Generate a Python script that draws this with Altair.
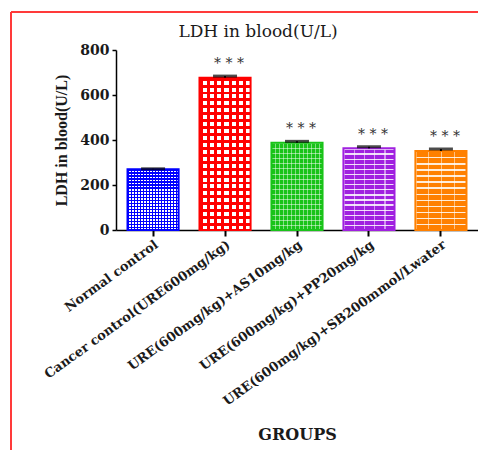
import altair as alt
import pandas as pd

# Group names, mean LDH (U/L), SEM and significance marks
groups = [
    "Normal control",
    "Cancer control(URE600mg/kg)",
    "URE(600mg/kg)+AS10mg/kg",
    "URE(600mg/kg)+PP20mg/kg",
    "URE(600mg/kg)+SB200mmol/Lwater",
]
ldh_mean = [270, 677, 388, 363, 351]
ldh_sem = [2, 7, 6, 7, 9]
signif = ["", "* * *", "* * *", "* * *", "* * *"]

colors = ["#0000ff", "#ff0000", "#19c319", "#a020e0", "#ff8000"]

W_LINE = "rgba(255,255,255,0.85)"
W_SOFT = "rgba(255,255,255,0.5)"

# fill pattern per group:
# (base fill, (row colour, row period px, row share), (column colour, column period px, column share))
patterns = [
    ("white", ("#0000ff", 3.0, 0.5), ("#0000ff", 3.0, 0.5)),
    ("white", ("#ff0000", 7.0, 0.42), ("#ff0000", 7.0, 0.42)),
    ("#19c319", ("rgba(255,255,255,0.5)", 5.0, 0.2), ("rgba(255,255,255,0.45)", 4.0, 0.25)),
    ("#a020e0", (W_LINE, 5.0, 0.26), (W_SOFT, 10.0, 0.12)),
    ("#ff8000", (W_LINE, 6.0, 0.22), (W_SOFT, 12.0, 0.1)),
]

PLOT_W, PLOT_H, Y_MAX = 362, 180, 800
BAR_W = 51
CLEAR = "rgba(255,255,255,0)"

df = pd.DataFrame({
    "group": groups,
    "ldh": ldh_mean,
    "top": [m + s for m, s in zip(ldh_mean, ldh_sem)],
    "sig": signif,
})

serif = "DejaVu Serif"

x_enc = alt.X(
    "group:N",
    sort=groups,
    scale=alt.Scale(paddingInner=0.29, paddingOuter=0.16),
    axis=alt.Axis(
        title="GROUPS",
        labelAngle=-36,
        labelAlign="right",
        labelBaseline="top",
        labelFont=serif,
        labelFontSize=13,
        labelFontWeight="bold",
        labelColor="#1a1a1a",
        labelLimit=400,
        labelPadding=2,
        tickSize=6,
        tickWidth=2,
        tickColor="black",
        domainColor="black",
        domainWidth=1.5,
        titleFont=serif,
        titleFontSize=16,
        titleFontWeight="bold",
        titleColor="#1a1a1a",
        titlePadding=18,
    ),
)
y_scale = alt.Scale(domain=[0, Y_MAX], nice=False)
y_enc = alt.Y(
    "ldh:Q",
    scale=y_scale,
    axis=alt.Axis(
        title="LDH in blood(U/L)",
        values=[0, 200, 400, 600, 800],
        labelFont=serif,
        labelFontSize=14,
        labelFontWeight="bold",
        labelColor="#1a1a1a",
        labelPadding=3,
        tickSize=4,
        tickWidth=1.5,
        tickColor="black",
        domainColor="black",
        domainWidth=1.5,
        grid=False,
        titleFont="Liberation Serif",
        titleFontSize=16,
        titleFontWeight="bold",
        titleColor="#1a1a1a",
        titlePadding=10,
    ),
)


def stripes(color, n, duty, along_x):
    """Linear gradient made of n hard-edged bands of colour with clear gaps."""
    stops = []
    for i in range(n):
        a, b, c = i / n, (i + duty) / n, (i + 1) / n
        stops += [
            alt.GradientStop(color=color, offset=a),
            alt.GradientStop(color=color, offset=b),
            alt.GradientStop(color=CLEAR, offset=b),
            alt.GradientStop(color=CLEAR, offset=c),
        ]
    if along_x:
        return alt.LinearGradient(gradient="linear", stops=stops, x1=0, x2=1, y1=0, y2=0)
    return alt.LinearGradient(gradient="linear", stops=stops, x1=0, x2=0, y1=0, y2=1)


base = alt.Chart(df)
layers = []
for name, val, (fill0, (hc, hp, hd), (vc, vp, vd)) in zip(groups, ldh_mean, patterns):
    sel = base.transform_filter(alt.datum.group == name)
    bar_h = val / Y_MAX * PLOT_H
    n_h = max(1, round(bar_h / hp))
    n_v = max(1, round(BAR_W / vp))
    layers.append(sel.mark_bar(fill=fill0).encode(x=x_enc, y=y_enc))
    layers.append(sel.mark_bar(fill=stripes(hc, n_h, hd, False)).encode(x=x_enc, y=y_enc))
    layers.append(sel.mark_bar(fill=stripes(vc, n_v, vd, True)).encode(x=x_enc, y=y_enc))

outline = base.mark_bar(fillOpacity=0, strokeWidth=2).encode(
    x=x_enc,
    y=y_enc,
    stroke=alt.Stroke("group:N", sort=groups,
                      scale=alt.Scale(domain=groups, range=colors), legend=None),
)

err_line = base.mark_rule(color="black", strokeWidth=2).encode(
    x=alt.X("group:N", sort=groups), y=alt.Y("ldh:Q", scale=y_scale), y2="top:Q"
)
err_cap = base.mark_tick(color="black", thickness=3, size=24, orient="horizontal").encode(
    x=alt.X("group:N", sort=groups), y=alt.Y("top:Q", scale=y_scale)
)
stars = base.mark_text(
    font=serif, fontSize=14, color="#333333", baseline="bottom", dy=-5, dx=4
).encode(x=alt.X("group:N", sort=groups), y=alt.Y("top:Q", scale=y_scale), text="sig:N")

# red frame around the figure
one = alt.Data(values=[{"k": 0}])
frame_top = alt.Chart(one).mark_rule(color="#ff3a3a", strokeWidth=2).encode(
    x=alt.value(-105), x2=alt.value(PLOT_W), y=alt.value(-38)
)
frame_left = alt.Chart(one).mark_rule(color="#ff3a3a", strokeWidth=2).encode(
    x=alt.value(-105), y=alt.value(-38), y2=alt.value(400)
)

chart = alt.layer(
    *layers, outline, err_line, err_cap, stars, frame_top, frame_left
).properties(
    width=PLOT_W,
    height=PLOT_H,
    title=alt.TitleParams(
        text="LDH in blood(U/L)",
        font=serif,
        fontSize=17,
        fontWeight="normal",
        color="#1a1a1a",
        anchor="middle",
        frame="group",
        dx=-39,
        offset=-30,
    ),
    autosize=alt.AutoSizeParams(type="none"),
    padding={"left": 116, "top": 50, "right": 0, "bottom": 220},
    background="white",
).configure_view(stroke=None)

chart.save("out.html", embed_options={"renderer": "svg", "actions": False})
